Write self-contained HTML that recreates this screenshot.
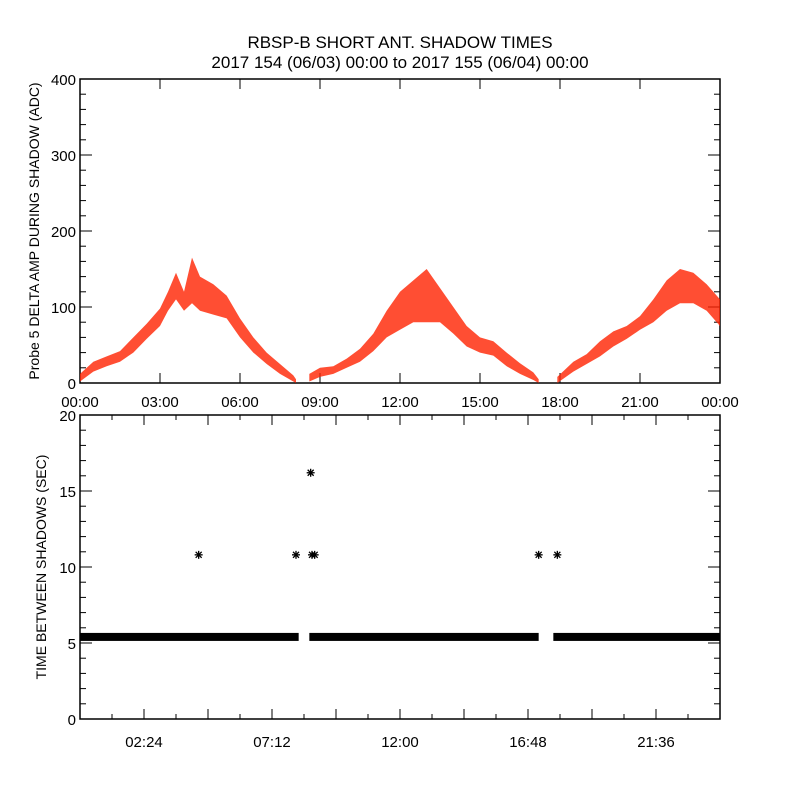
<!DOCTYPE html>
<html><head><meta charset="utf-8"><style>
body{margin:0;background:#fff}
svg{display:block;font-family:"Liberation Sans",sans-serif}
</style></head><body>
<svg id="c" width="800" height="800">
<text x="400" y="48" text-anchor="middle" font-size="17">RBSP-B SHORT ANT. SHADOW TIMES</text>
<text x="400" y="68" text-anchor="middle" font-size="17">2017 154 (06/03) 00:00 to 2017 155 (06/04) 00:00</text>
<g id="topPanel"></g><g id="botPanel"></g>
</svg>
<script>
// ---- top panel data (hours, band low/high in ADC) ----
const seg1T=[0,0.5,1,1.5,2,2.5,3,3.3,3.6,3.9,4.2,4.5,5,5.5,6,6.5,7,7.5,8,8.1];
const seg1Lo=[2,15,22,28,40,58,75,95,110,95,105,95,90,85,60,40,25,12,2,0];
const seg1Hi=[12,28,35,42,60,78,98,120,145,120,165,140,130,115,85,60,40,25,10,5];
const seg2T=[8.6,9,9.5,10,10.5,11,11.5,12,12.5,13,13.5,14,14.5,15,15.5,16,16.5,17,17.2];
const seg2Lo=[2,8,12,20,28,42,60,70,80,80,80,65,48,40,36,22,12,4,0];
const seg2Hi=[12,20,22,32,45,65,95,120,135,150,125,100,75,60,55,40,26,14,5];
const seg3T=[17.9,18.5,19,19.5,20,20.5,21,21.5,22,22.5,23,23.5,24];
const seg3Lo=[0,15,25,35,48,58,70,80,95,105,105,95,75];
const seg3Hi=[8,28,38,55,68,75,88,110,135,150,145,130,110];
const topYTicks=[0,100,200,300,400];
const topXLabels=["00:00","03:00","06:00","09:00","12:00","15:00","18:00","21:00","00:00"];
// ---- bottom panel data ----
const baseSegStart=[0,8.6,17.75];
const baseSegEnd=[8.2,17.2,24];
const baseValue=5.4;
const outT=[4.45,8.1,8.65,8.7,8.8,17.2,17.9];
const outV=[10.8,10.8,16.2,10.8,10.8,10.8,10.8];
const botYTicks=[0,5,10,15,20];
const botXLabels=["02:24","07:12","12:00","16:48","21:36"];

const NS="http://www.w3.org/2000/svg";
function mk(p,tag,a){const e=document.createElementNS(NS,tag);for(const k in a)e.setAttribute(k,a[k]);p.appendChild(e);return e;}
const X0=80,X1=720;
const xs=h=>X0+h*(X1-X0)/24;
const T0=79,T1=383,ty=v=>T1-(v/400)*(T1-T0);
const B0=415,B1=719,by=v=>B1-(v/20)*(B1-B0);
const topG=document.getElementById('topPanel'),botG=document.getElementById('botPanel');

let f=mk(topG,'rect',{x:X0,y:T0,width:X1-X0,height:T1-T0,fill:'none',stroke:'#000','stroke-width':1.5});


for(let v=0;v<=400;v+=20){const L=v%100===0?12:6;
 mk(topG,'line',{x1:X0,x2:X0+L,y1:ty(v),y2:ty(v),stroke:'#000'});
 mk(topG,'line',{x1:X1,x2:X1-L,y1:ty(v),y2:ty(v),stroke:'#000'});}
topYTicks.forEach(v=>{const t=mk(topG,'text',{x:X0-4,y:ty(v)+6,'text-anchor':'end','font-size':15});t.textContent=v;
 
 });
for(let h=0;h<=24;h+=3){mk(topG,'line',{x1:xs(h),x2:xs(h),y1:T1,y2:T1-10,stroke:'#000'});mk(topG,'line',{x1:xs(h),x2:xs(h),y1:T0,y2:T0+10,stroke:'#000'});}
topXLabels.forEach((s,i)=>{const t=mk(topG,'text',{x:xs(i*3),y:T1+24,'text-anchor':'middle','font-size':15});t.textContent=s;
 
 });
let yt=mk(topG,'text',{x:0,y:0,'text-anchor':'middle','font-size':14,transform:`translate(39,${(T0+T1)/2}) rotate(-90)`});
yt.textContent='Probe 5 DELTA AMP DURING SHADOW (ADC)';


[[seg1T,seg1Lo,seg1Hi],[seg2T,seg2Lo,seg2Hi],[seg3T,seg3Lo,seg3Hi]].forEach((s,i)=>{
 const [T,L,H]=s;let pts=T.map((t,j)=>xs(t)+','+ty(H[j]));
 for(let j=T.length-1;j>=0;j--)pts.push(xs(T[j])+','+ty(L[j]));
 const p=mk(topG,'polygon',{points:pts.join(' '),fill:'#ff2200',opacity:0.8});
 
 
});

f=mk(botG,'rect',{x:X0,y:B0,width:X1-X0,height:B1-B0,fill:'none',stroke:'#000','stroke-width':1.5});


for(let v=0;v<=20;v+=1){const L=v%5===0?12:6;
 mk(botG,'line',{x1:X0,x2:X0+L,y1:by(v),y2:by(v),stroke:'#000'});
 mk(botG,'line',{x1:X1,x2:X1-L,y1:by(v),y2:by(v),stroke:'#000'});}
botYTicks.forEach(v=>{const t=mk(botG,'text',{x:X0-4,y:by(v)+6,'text-anchor':'end','font-size':15});t.textContent=v;
 
 });
for(let k=1;k<20;k++){const h=k*1.2,L=k%2===0?10:5;
 mk(botG,'line',{x1:xs(h),x2:xs(h),y1:B1,y2:B1-L,stroke:'#000'});mk(botG,'line',{x1:xs(h),x2:xs(h),y1:B0,y2:B0+L,stroke:'#000'});}
botXLabels.forEach((s,i)=>{const t=mk(botG,'text',{x:xs(2.4+i*4.8),y:B1+28,'text-anchor':'middle','font-size':15});t.textContent=s;
 
 });
yt=mk(botG,'text',{x:0,y:0,'text-anchor':'middle','font-size':14,transform:`translate(46,${(B0+B1)/2}) rotate(-90)`});
yt.textContent='TIME BETWEEN SHADOWS (SEC)';


baseSegStart.forEach((s,i)=>{const r=mk(botG,'rect',{x:xs(s),y:by(baseValue)-4,width:xs(baseSegEnd[i])-xs(s),height:8,fill:'#000'});
 
 });
outT.forEach((t,i)=>{const cx=xs(t),cy=by(outV[i]);const g=mk(botG,'g',{stroke:'#000','stroke-width':1.3});
 
 
 mk(g,'line',{x1:cx-4,x2:cx+4,y1:cy,y2:cy});mk(g,'line',{x1:cx,x2:cx,y1:cy-4,y2:cy+4});
 mk(g,'line',{x1:cx-3,x2:cx+3,y1:cy-3,y2:cy+3});mk(g,'line',{x1:cx-3,x2:cx+3,y1:cy+3,y2:cy-3});});
</script>
</body></html>
